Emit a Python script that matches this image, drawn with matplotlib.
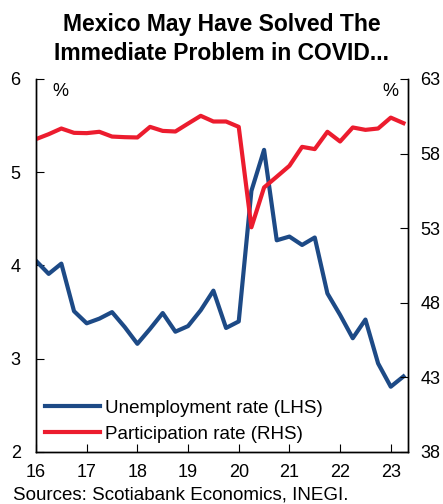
import matplotlib
matplotlib.use("Agg")
import matplotlib.pyplot as plt

plt.rcParams['font.family'] = ['Liberation Sans', 'DejaVu Sans']

# Trimestres 2016T1 - 2023T2 (eje en años, 16 = 2016)
trimestres = [16 + 0.25 * i for i in range(30)]

# Tasa de desempleo (%), eje izquierdo
desempleo = [4.05, 3.91, 4.02, 3.51, 3.38, 3.43, 3.50, 3.34, 3.16, 3.32,
             3.49, 3.29, 3.35, 3.52, 3.73, 3.33, 3.40, 4.80, 5.24, 4.27,
             4.31, 4.22, 4.30, 3.70, 3.47, 3.22, 3.42, 2.95, 2.70, 2.81]

# Tasa de participación (%), eje derecho
participacion = [58.97, 59.30, 59.68, 59.39, 59.37, 59.46, 59.14, 59.10, 59.08, 59.79,
                 59.52, 59.48, 60.01, 60.53, 60.15, 60.15, 59.79, 53.06, 55.73, 56.45,
                 57.18, 58.45, 58.30, 59.46, 58.81, 59.75, 59.59, 59.68, 60.41, 60.04]

ticks_x = [16, 17, 18, 19, 20, 21, 22, 23]
ticks_izq = [2, 3, 4, 5, 6]
ticks_der = [38, 43, 48, 53, 58, 63]

AZUL = '#1d4a86'
ROJO = '#ec1c2e'

fig = plt.figure(figsize=(4.43, 5.04), dpi=100)
ax = fig.add_axes([0.0813, 0.1032, 0.8397, 0.7401])
ax2 = ax.twinx()

l1, = ax.plot(trimestres, desempleo, color=AZUL, lw=3.0, label='Unemployment rate (LHS)')
l2, = ax2.plot(trimestres, participacion, color=ROJO, lw=3.0, label='Participation rate (RHS)')

ax.set_xlim(16, 23.34)
ax.set_ylim(2, 6)
ax2.set_ylim(38, 63)
ax.set_xticks(ticks_x)
ax.set_xticklabels([str(t) for t in ticks_x])
ax.set_yticks(ticks_izq)
ax2.set_yticks(ticks_der)

for a in (ax, ax2):
    a.spines['top'].set_visible(False)
    for s in a.spines.values():
        s.set_linewidth(1.0)

ax.tick_params(axis='y', direction='in', length=6, pad=11, labelsize=13)
ax.tick_params(axis='x', direction='in', length=6, pad=9, labelsize=13)
ax2.tick_params(axis='y', direction='in', length=6, pad=9, labelsize=13)

# unidades de cada eje
fig.text(60 / 443, 1 - 92 / 504, '%', fontsize=13, ha='center', va='center')
fig.text(390 / 443, 1 - 92 / 504, '%', fontsize=13, ha='center', va='center')

ax.legend(handles=[l1, l2], loc='lower left', frameon=False, fontsize=13.5,
          handlelength=2.9, handletextpad=0.3, labelspacing=0.45,
          borderaxespad=0.0, bbox_to_anchor=(0.005, 0.005))

fig.text(0.5, 1 - 31 / 504, 'Mexico May Have Solved The', fontsize=16.5,
         fontweight='bold', ha='center', va='baseline')
fig.text(0.5, 1 - 60 / 504, 'Immediate Problem in COVID...', fontsize=16.5,
         fontweight='bold', ha='center', va='baseline')
fig.text(13 / 443, 5 / 504, 'Sources: Scotiabank Economics, INEGI.', fontsize=13.5,
         ha='left', va='baseline')

fig.savefig('out.png', dpi=100)
